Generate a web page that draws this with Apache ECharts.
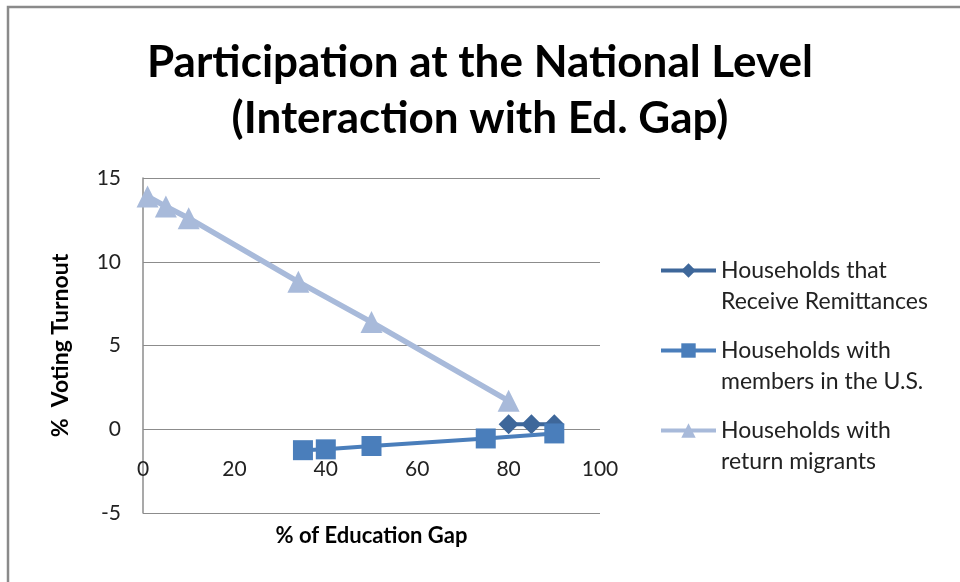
<!DOCTYPE html>
<html><head><meta charset="utf-8">
<script src="https://cdn.jsdelivr.net/npm/echarts@6/dist/echarts.min.js"></script>
<style>html,body{margin:0;padding:0;background:#fff}#c{width:960px;height:582px}</style>
</head><body><div id="c"></div>
<script>
const titleText = "Participation at the National Level\n(Interaction with Ed. Gap)";
const xAxisName = "% of Education Gap";
const yAxisName = "%  Voting Turnout";
const seriesNames = ["Households that\nReceive Remittances", "Households with\nmembers in the U.S.", "Households with\nreturn migrants"];
const remittancesX = [80, 85, 90];
const remittancesY = [0.3, 0.3, 0.3];
const membersX = [35, 40, 50, 75, 90];
const membersY = [-1.25, -1.2, -1.0, -0.55, -0.25];
const returnX = [1, 5, 10, 34, 50, 80];
const returnY = [13.9, 13.3, 12.6, 8.8, 6.4, 1.7];
const xTicks = {min: 0, max: 100, interval: 20};
const yTicks = {min: -5, max: 15, interval: 5};

const zip = (xs, ys) => xs.map((x, i) => [x, ys[i]]);
const FONT = "Lato, 'Open Sans', sans-serif";
const chart = echarts.init(document.getElementById('c'), null, {renderer: 'canvas'});
chart.setOption({
  animation: false,
  backgroundColor: '#fff',
  graphic: [{type: 'rect', shape: {x: 8, y: 7, width: 1000, height: 700},
    style: {fill: 'none', stroke: '#8a8a8a', lineWidth: 2.5}, silent: true}],
  title: {text: titleText, left: 'center', top: 30,
    textStyle: {fontFamily: FONT, fontWeight: 'bold', fontSize: 44, color: '#000', lineHeight: 56}},
  grid: {left: 143, right: 360, top: 178, bottom: 69, containLabel: false, outerBoundsMode: 'none'},
  legend: {orient: 'vertical', left: 659, top: 224, padding: 0, itemWidth: 55, itemHeight: 18, itemGap: -13,
    data: seriesNames,
    formatter: name => '\u00a0\n' + name,
    lineStyle: {width: 4},
    textStyle: {fontFamily: FONT, fontSize: 23, color: '#222', lineHeight: 31}},
  xAxis: {type: 'value', min: xTicks.min, max: xTicks.max, interval: xTicks.interval,
    name: xAxisName, nameLocation: 'middle', nameGap: 12,
    nameTextStyle: {fontFamily: FONT, fontWeight: 'bold', fontSize: 22, color: '#000'},
    axisLine: {show: false}, axisTick: {show: false}, splitLine: {show: false},
    axisLabel: {fontFamily: FONT, fontSize: 21, color: '#222', inside: true, margin: 33}},
  yAxis: {type: 'value', min: yTicks.min, max: yTicks.max, interval: yTicks.interval,
    name: yAxisName, nameLocation: 'middle', nameGap: 71, nameRotate: 90,
    nameTextStyle: {fontFamily: FONT, fontWeight: 'bold', fontSize: 23, color: '#000'},
    axisLine: {show: true, onZero: false, lineStyle: {color: '#8c8c8c', width: 1.5}},
    axisTick: {show: false},
    splitLine: {show: true, lineStyle: {color: '#8c8c8c', width: 1.2}},
    axisLabel: {fontFamily: FONT, fontSize: 21, color: '#222', margin: 22}},
  series: [
    {name: seriesNames[0], type: 'line', data: zip(remittancesX, remittancesY), symbol: 'diamond', symbolSize: 20,
      itemStyle: {color: '#3E679A'}, lineStyle: {color: '#3E679A', width: 4}, z: 3},
    {name: seriesNames[1], type: 'line', data: zip(membersX, membersY), symbol: 'rect', symbolSize: 20,
      itemStyle: {color: '#4A7EBB'}, lineStyle: {color: '#4A7EBB', width: 4}, z: 4},
    {name: seriesNames[2], type: 'line', data: zip(returnX, returnY), symbol: 'triangle', symbolSize: 22,
      itemStyle: {color: '#A8BADA'}, lineStyle: {color: '#A8BADA', width: 5.5}, z: 2}
  ]
});
</script></body></html>
